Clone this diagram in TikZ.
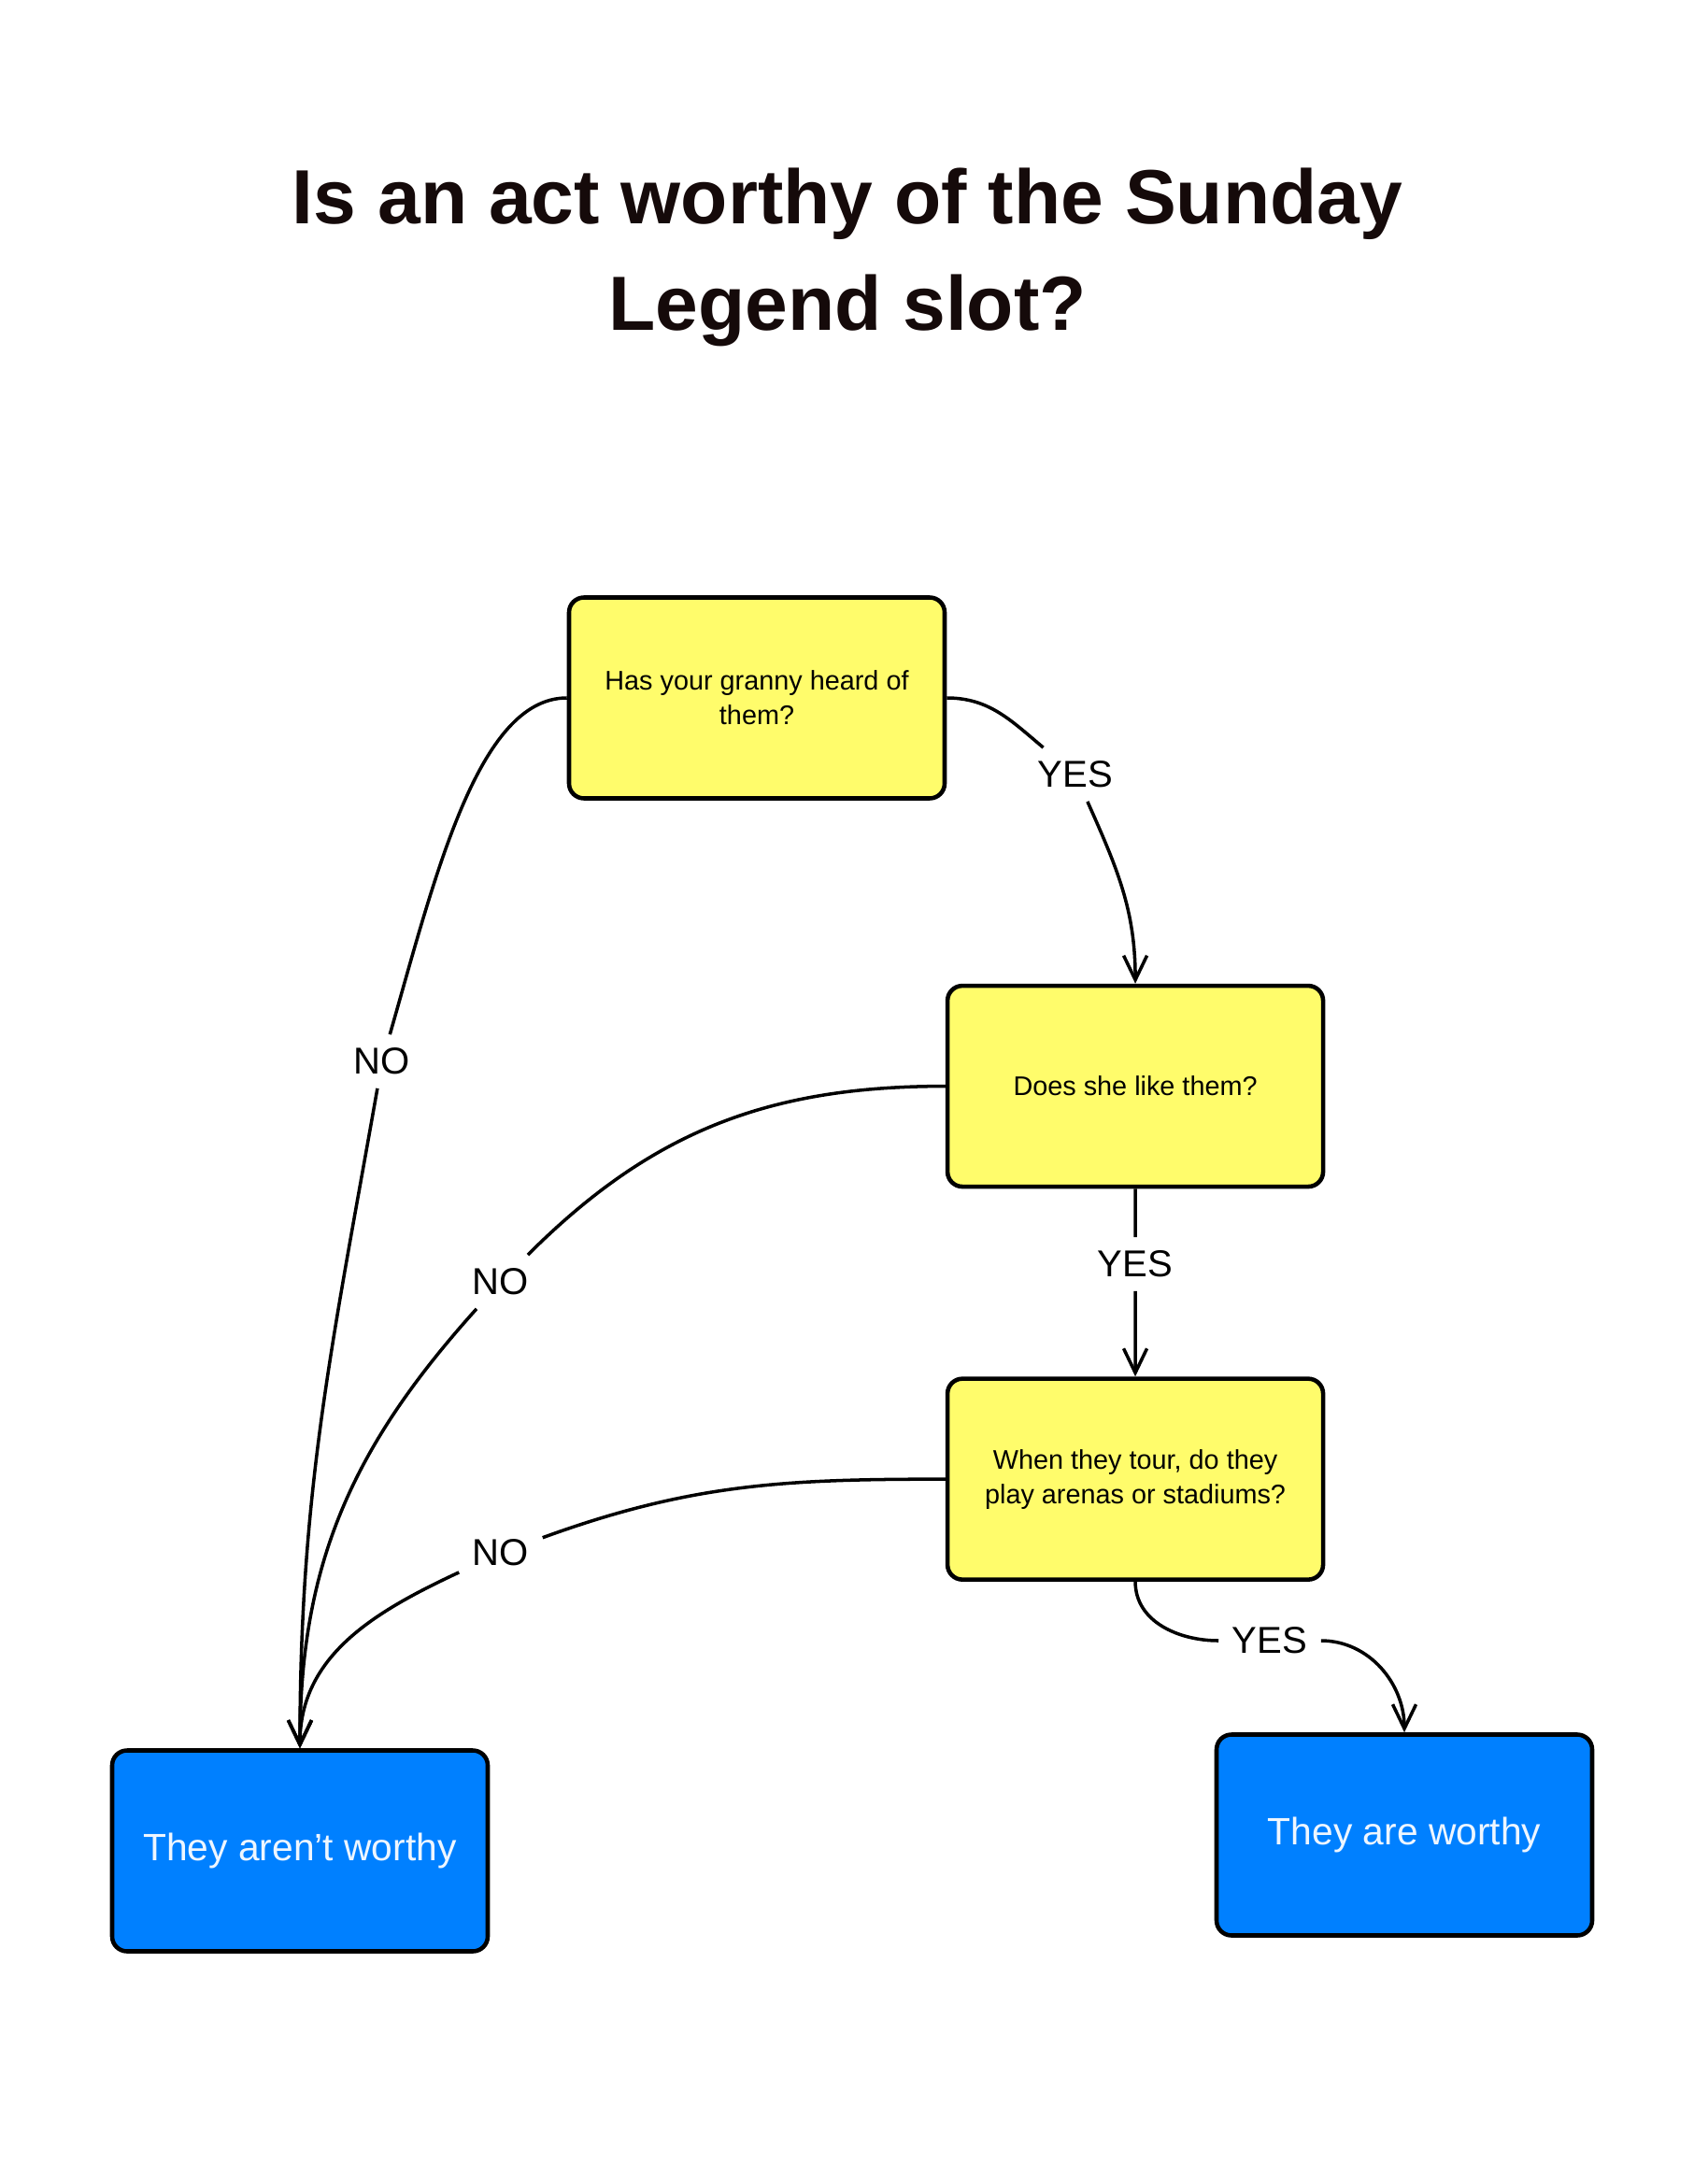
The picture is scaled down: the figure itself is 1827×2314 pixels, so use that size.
\documentclass[tikz,border=0pt]{standalone}
\usepackage{fontspec}
\setmainfont{Liberation Sans}
\usepackage{xcolor}
\definecolor{cYellow}{HTML}{FFFC6B}
\definecolor{cBlue}{HTML}{0080FF}
\definecolor{cInk}{HTML}{150A0A}
\definecolor{cPale}{HTML}{EEF6FF}
\usepackage{tikz}
\usetikzlibrary{positioning,arrows.meta}
\tikzset{
  node-box/.style={draw=black,line width=1.3pt,rounded corners=1.6mm,
    minimum width=40.2mm,minimum height=21.5mm,align=center,inner sep=0pt},
  node-ask/.style={node-box,fill=cYellow,font=\fontsize{8.2}{10.5}\selectfont},
  node-end/.style={node-box,fill=cBlue,text=cPale,font=\fontsize{11.6}{14}\selectfont},
  node-tag/.style={inner sep=1.4mm,font=\fontsize{11.4}{13}\selectfont},
  node-title/.style={align=center,text=cInk,font=\fontsize{23.4}{32.4}\selectfont\bfseries},
  arrow/.style={-{Straight Barb[length=2.6mm,width=2.5mm]},line width=1pt},
}

\begin{document}
\begin{tikzpicture}[x=0.1mm,y=0.1mm]
  \useasboundingbox (0,0) rectangle (1827,-2314);
  \node[node-title] (title) at (907,-275) {Is an act worthy of the Sunday\\Legend slot?};
  \node[node-ask] (granny) at (810,-747) {Has your granny heard of\\them?};
  \node[node-ask,below right=19.6mm and -0.15mm of granny] (like) {Does she like them?};
  \node[node-ask,below=20.1mm of like] (tour) {When they tour, do they\\play arenas or stadiums?};
  \node[node-end] (notworthy) at (321,-1981) {They aren’t worthy};
  \node[node-end] (worthy) at (1503,-1964) {They are worthy};
  % answers on the connectors
  \node[node-tag] (no-a) at (409,-1136) {NO};
  \node[node-tag] (no-b) at (536,-1372) {NO};
  \node[node-tag] (no-c) at (536,-1662) {NO};
  \node[node-tag] (yes-a) at (1151,-829) {YES};
  \node[node-tag] (yes-b) at (1215,-1353) {YES};
  \node[node-tag] (yes-c) at (1359,-1756) {YES};
  \draw[arrow] (granny.west) to[out=180,in=74,out looseness=0.6,in looseness=1.1] (no-a)
    to[out=-100,in=90] (notworthy.north);
  \draw[arrow] (like.west) to[out=180,in=45] (no-b) to[out=-132,in=90] (notworthy.north);
  \draw[arrow] (tour.west) to[out=180,in=20] (no-c) to[out=-155,in=90] (notworthy.north);
  \draw[arrow] (granny.east) to[out=0,in=140] (yes-a) to[out=-66,in=90] (like.north);
  \draw[arrow] (like) -- (yes-b) -- (tour);
  \draw[arrow] (tour.south) to[out=-90,in=180] (yes-c) to[out=0,in=90] (worthy.north);
\end{tikzpicture}
\end{document}
